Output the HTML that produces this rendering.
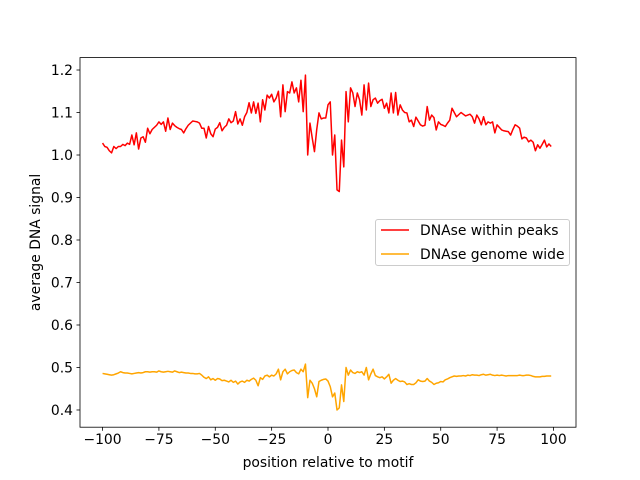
<!DOCTYPE html>
<html><head><meta charset="utf-8"><style>
body{margin:0;background:#fff}
svg{display:block;font-family:"DejaVu Sans","Liberation Sans",sans-serif}
</style></head><body>
<svg id="chart" width="640" height="480"></svg>
<script>
const positions = [];
for (let i = -100; i < 100; i++) positions.push(i);
const withinPeaks = [
1.028,1.02,1.018,1.01,1.005,1.02,1.015,1.02,1.02,1.025,
1.022,1.028,1.025,1.047,1.024,1.052,1.014,1.04,1.043,1.03,
1.063,1.05,1.06,1.065,1.07,1.078,1.072,1.078,1.056,1.087,
1.06,1.075,1.069,1.065,1.062,1.06,1.052,1.062,1.07,1.075,
1.08,1.079,1.078,1.075,1.063,1.063,1.04,1.067,1.05,1.043,
1.061,1.065,1.076,1.057,1.065,1.07,1.085,1.076,1.08,1.102,
1.073,1.085,1.07,1.09,1.1,1.123,1.099,1.125,1.098,1.122,
1.078,1.13,1.106,1.141,1.134,1.143,1.125,1.134,1.15,1.09,
1.165,1.102,1.149,1.146,1.172,1.146,1.158,1.125,1.176,1.102,
1.188,1.0,1.075,1.04,1.008,1.06,1.099,1.085,1.087,1.087,
1.118,1.125,1.0,1.047,0.918,0.914,1.035,0.972,1.149,1.078,
1.158,1.146,1.114,1.146,1.13,1.094,1.165,1.106,1.169,1.114,
1.13,1.134,1.122,1.128,1.131,1.11,1.122,1.099,1.146,1.099,
1.147,1.094,1.118,1.106,1.1,1.099,1.078,1.082,1.067,1.089,
1.08,1.071,1.068,1.07,1.114,1.082,1.094,1.088,1.059,1.078,
1.072,1.07,1.067,1.075,1.082,1.11,1.1,1.09,1.095,1.1,
1.096,1.092,1.094,1.096,1.09,1.075,1.094,1.085,1.071,1.09,
1.071,1.078,1.075,1.078,1.052,1.071,1.065,1.059,1.057,1.056,
1.055,1.047,1.06,1.071,1.068,1.063,1.038,1.042,1.04,1.031,
1.035,1.03,1.01,1.024,1.016,1.025,1.035,1.019,1.026,1.02];
const genomeWide = [
.486,.485,.484,.483,.482,.483,.485,.487,.49,.488,
.487,.487,.486,.485,.486,.487,.488,.487,.488,.49,
.49,.489,.49,.49,.489,.492,.49,.489,.49,.491,
.49,.489,.492,.49,.488,.489,.488,.487,.487,.486,
.486,.485,.485,.486,.482,.477,.474,.478,.471,.474,
.47,.474,.473,.469,.47,.468,.466,.47,.465,.468,
.461,.466,.468,.465,.47,.468,.472,.475,.47,.457,
.476,.472,.48,.482,.478,.482,.48,.485,.496,.471,
.49,.496,.485,.49,.493,.494,.488,.485,.496,.49,
.508,.429,.47,.463,.45,.431,.467,.47,.472,.473,
.468,.455,.431,.44,.4,.405,.459,.42,.5,.482,
.494,.488,.486,.49,.488,.49,.482,.5,.471,.485,
.496,.481,.478,.476,.478,.473,.478,.484,.463,.47,
.474,.47,.467,.468,.466,.46,.462,.46,.46,.464,
.471,.468,.467,.468,.474,.468,.465,.46,.463,.464,
.467,.466,.471,.473,.476,.478,.48,.479,.48,.48,
.481,.48,.482,.481,.483,.482,.482,.481,.483,.484,
.482,.483,.484,.482,.481,.482,.481,.482,.481,.48,
.481,.481,.481,.481,.481,.482,.481,.481,.482,.482,
.481,.479,.478,.478,.478,.479,.479,.48,.48,.48];
const xTicks = [-100,-75,-50,-25,0,25,50,75,100];
const yTicks = [0.4,0.5,0.6,0.7,0.8,0.9,1.0,1.1,1.2];

const L=80,R=576,T=57.6,B=427.2;
const xMin=-110,xMax=110,yMin=0.3595,yMax=1.2292;
const sx=v=>L+(v-xMin)/(xMax-xMin)*(R-L);
const sy=v=>B-(v-yMin)/(yMax-yMin)*(B-T);
const NS="http://www.w3.org/2000/svg";
const svg=document.getElementById('chart');
function mk(tag,attrs,parent){const e=document.createElementNS(NS,tag);for(const k in attrs)e.setAttribute(k,attrs[k]);(parent||svg).appendChild(e);return e;}

function series(vals,color,name){
  const d=vals.map((v,i)=>(i?'L':'M')+sx(positions[i]).toFixed(2)+','+sy(v).toFixed(2)).join(' ');
  const p=mk('path',{d:d,fill:'none',stroke:color,'stroke-width':1.5,'stroke-linejoin':'round'});
  
  
}
series(genomeWide,'#ffa500','genome-wide-line');
series(withinPeaks,'#ff0000','within-peaks-line');

const frame=mk('rect',{x:L,y:T,width:R-L,height:B-T,fill:'none',stroke:'#000','stroke-width':0.8});



xTicks.forEach(t=>{
  const x=sx(t);
  mk('line',{x1:x,x2:x,y1:B,y2:B+3.5,stroke:'#000','stroke-width':0.8});
  const tx=mk('text',{x:x,y:B+17,'text-anchor':'middle','font-size':'13.9px'});
  tx.textContent=String(t).replace('-','\u2212');
  
  
});
yTicks.forEach(t=>{
  const y=sy(t);
  mk('line',{x1:L-3.5,x2:L,y1:y,y2:y,stroke:'#000','stroke-width':0.8});
  const tx=mk('text',{x:L-7,y:y+5,'text-anchor':'end','font-size':'13.9px'});
  tx.textContent=t.toFixed(1);
  
  
});
const xt=mk('text',{x:(L+R)/2,y:467,'text-anchor':'middle','font-size':'13.9px'});
xt.textContent='position relative to motif';


const yt=mk('text',{x:0,y:0,'text-anchor':'middle','font-size':'13.9px',transform:'translate(40,'+((T+B)/2)+') rotate(-90)'});
yt.textContent='average DNA signal';



const lg=mk('g',{});


mk('rect',{x:375.5,y:219.5,width:194,height:46,rx:2.5,fill:'#fff','fill-opacity':0.8,stroke:'#ccc','stroke-width':1},lg);
const entries=[['DNAse within peaks','#ff0000',230],['DNAse genome wide','#ffa500',254]];
entries.forEach(e=>{
  const g=mk('g',{},lg);
  
  
  mk('line',{x1:381,x2:409,y1:e[2],y2:e[2],stroke:e[1],'stroke-width':1.5},g);
  const t=mk('text',{x:420,y:e[2]+5,'font-size':'13.9px'},g);
  t.textContent=e[0];
});
</script>
</body></html>
